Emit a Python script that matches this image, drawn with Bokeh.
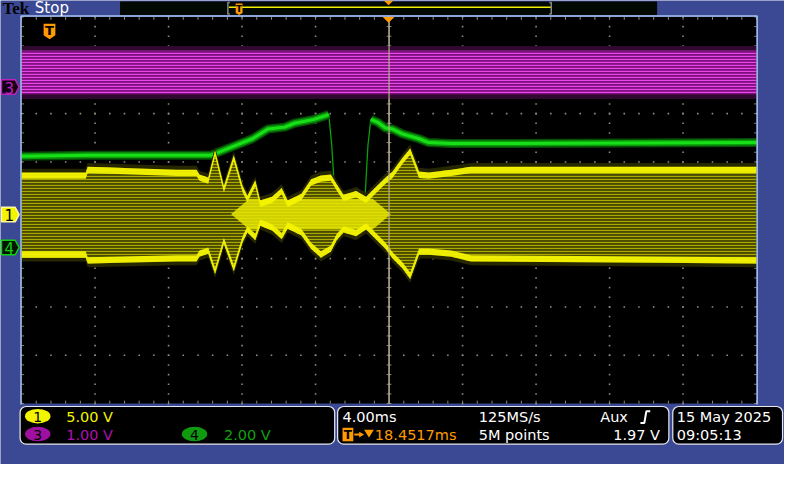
import numpy as np
from bokeh.plotting import figure
from bokeh.models import Range1d
from bokeh.core.properties import value
from bokeh.embed import file_html
from bokeh.resources import INLINE

# ---------------- data: time in ms from screen centre, amplitude in divisions ----------------
# Channel 1 (yellow) envelope
ch1_t = [-20.0, -16.51, -16.40, -11.55, -10.48, -10.32, -9.84, -9.47, -8.99, -8.45, -7.97,
         -7.71, -7.28, -7.01, -6.37, -5.84, -5.52, -4.77, -4.24, -3.71, -3.17, -2.85, -2.48,
         -1.79, -1.25, -0.72, -0.19, 0.19, 0.72, 1.15, 1.63, 2.16, 3.39, 4.45, 20.0]
ch1_upper = [0.78, 0.78, 0.90, 0.84, 0.84, 0.74, 0.68, 1.24, 0.50, 1.14, 0.50,
             0.30, 0.62, 0.20, 0.28, 0.46, 0.20, 0.34, 0.64, 0.72, 0.74, 0.54, 0.32,
             0.40, 0.28, 0.48, 0.68, 0.80, 1.08, 1.28, 0.80, 0.78, 0.84, 0.90, 0.90]
ch1_lower = [-0.98, -0.98, -1.10, -1.06, -1.06, -0.96, -0.90, -1.32, -0.70, -1.26, -0.66,
             -0.46, -0.62, -0.32, -0.42, -0.60, -0.38, -0.52, -0.80, -0.98, -0.86, -0.62, -0.46,
             -0.54, -0.40, -0.60, -0.80, -1.00, -1.20, -1.42, -0.92, -0.92, -0.96, -1.06, -1.10]
# dense bright core of channel 1 during the small-amplitude stretch
ch1_core_t = [-8.6, -7.6, -0.9, 0.1]
ch1_core_upper = [-0.08, 0.24, 0.24, -0.08]
ch1_core_lower = [-0.08, -0.40, -0.40, -0.08]

# Channel 3 (magenta) band
ch3_t = [-20.0, -10.0, 0.0, 10.0, 20.0]
ch3_upper = [3.30, 3.30, 3.30, 3.30, 3.30]
ch3_lower = [2.40, 2.40, 2.40, 2.40, 2.40]

# Channel 4 (green) trace
ch4_t = [-20.0, -16.45, -9.68, -9.15, -7.97, -7.44, -6.59, -5.68, -5.15, -4.08, -3.28,
         -3.12, -3.01, -2.91, -1.31, -1.15, -0.99, -0.61, -0.19, 0.19, 0.72, 1.63, 2.16, 3.39, 20.0]
ch4_v = [1.12, 1.14, 1.14, 1.22, 1.40, 1.48, 1.68, 1.72, 1.80, 1.88, 1.98,
         1.34, 0.68, 0.34, 0.24, 1.34, 1.88, 1.82, 1.70, 1.68, 1.58, 1.48, 1.40, 1.38, 1.40]

# Graticule: 10 x 4.00 ms divisions, 8 vertical divisions
div_ms = 4.0
n_xdiv, n_ydiv = 10, 8

# Readout texts
readout_ch = ["1", "3", "4"]
readout_scale = ["5.00 V", "1.00 V", "2.00 V"]
time_scale = "4.00ms"
sample_rate = "125MS/s"
trigger_src = "Aux"
trigger_pos = "18.4517ms"
record_len = "5M points"
trigger_level = "1.97 V"
date_txt = "15 May 2025"
time_txt = "09:05:13"

# ---------------- colours ----------------
BLUE = "#3b4994"
FRAME = "#a8c4ee"
GRID = "#8c8c78"
YEL = "#f4f400"
MAG = "#c020c0"
GRN = "#10d010"
ORANGE = "#ff9a00"
FONT = value("DejaVu Sans")

# ---------------- figure: canvas mapped to the 800x480 screen ----------------
W, H = 784, 464
XS, XE = -396.5 * div_ms / 75.0, (800 - 396.5) * div_ms / 75.0
YS, YE = (217 - 480) / 50.0, 217 / 50.0
p = figure(width=W, height=H, x_range=Range1d(XS, XE), y_range=Range1d(YS, YE),
           output_backend="svg", toolbar_location=None, min_border=0,
           x_axis_type=None, y_axis_type=None)
p.extra_x_ranges = {"px": Range1d(0, 800)}
p.extra_y_ranges = {"px": Range1d(480, 0)}
p.background_fill_color = BLUE
p.border_fill_color = BLUE
p.outline_line_color = None
p.xgrid.visible = False
p.ygrid.visible = False
PX = dict(x_range_name="px", y_range_name="px")

hx = n_xdiv / 2 * div_ms
hy = n_ydiv / 2
# graticule area
p.quad(left=[-hx], right=[hx], bottom=[-hy], top=[hy], fill_color="black", line_color=None)

# grid dots
sub_x = np.arange(-hx, hx + 1e-9, div_ms / 5)
sub_y = np.arange(-hy, hy + 1e-9, 0.2)
gx, gy = [], []
for yl in range(-3, 4):
    if yl == 0:
        continue
    gx += list(sub_x); gy += [yl] * len(sub_x)
for k in range(-4, 5):
    if k == 0:
        continue
    gx += [k * div_ms] * len(sub_y); gy += list(sub_y)
p.scatter(gx, gy, marker="square", size=1.6, color=GRID, line_color=None)

# edge ticks and centre line ticks
tk = 0.06
tkx = tk * 4 / 3 * 1.6
tx0, tx1, ty0, ty1 = [], [], [], []
for x in sub_x:
    tx0 += [x, x, x]; tx1 += [x, x, x]
    ty0 += [hy, -hy, -tk]; ty1 += [hy - tk, -hy + tk, tk]
for y in sub_y:
    tx0 += [-hx, hx, -tkx]; tx1 += [-hx + tkx, hx - tkx, tkx]
    ty0 += [y, y, y]; ty1 += [y, y, y]
p.segment(tx0, ty0, tx1, ty1, line_color=GRID, line_width=1)
# centre lines
p.segment([-hx, 0], [0, -hy], [hx, 0], [0, hy], line_color="#9c9480", line_width=1.2)

# channel 3 (magenta)
p.varea(x=ch3_t, y1=[v + 0.1 for v in ch3_upper], y2=[v - 0.1 for v in ch3_lower],
        fill_color="#300830")
p.varea(x=ch3_t, y1=ch3_upper, y2=ch3_lower, fill_color="#801080",
        hatch_pattern="horizontal_line", hatch_color="#e848e8", hatch_scale=3, hatch_weight=1.3)

# channel 4 (green) – thin full trace, thick slow parts
p.line(ch4_t, ch4_v, line_color="#0aa00a", line_width=1.3)
tt, vv = [], []
for i in range(len(ch4_t)):
    tt.append(ch4_t[i]); vv.append(ch4_v[i])
    if i < len(ch4_t) - 1:
        slope = abs(ch4_v[i + 1] - ch4_v[i]) / (ch4_t[i + 1] - ch4_t[i])
        if slope > 1.5:
            tt.append(np.nan); vv.append(np.nan)
p.line(tt, vv, line_color="#064d06", line_width=9, line_join="round")
p.line(tt, vv, line_color="#0a9a0a", line_width=6, line_join="round")
p.line(tt, vv, line_color="#18e018", line_width=3, line_join="round")

# channel 1 (yellow)
up = np.array(ch1_upper); lo = np.array(ch1_lower)
p.varea(x=ch1_t, y1=up + 0.08, y2=lo - 0.08, fill_color="#262600")
p.varea(x=ch1_t, y1=up, y2=lo, fill_color="#4a4a00",
        hatch_pattern="horizontal_line", hatch_color="#c8c800", hatch_alpha=0.75,
        hatch_scale=3, hatch_weight=1.2)
# bright core, kept inside the envelope
tc = np.linspace(ch1_core_t[0], ch1_core_t[-1], 300)
cu = np.minimum(np.interp(tc, ch1_core_t, ch1_core_upper), np.interp(tc, ch1_t, up))
cl = np.maximum(np.interp(tc, ch1_core_t, ch1_core_lower), np.interp(tc, ch1_t, lo))
p.varea(x=tc, y1=cu, y2=cl, fill_color="#e8e800", fill_alpha=0.85)
p.varea(x=ch1_t, y1=up, y2=up - 0.13, fill_color=YEL, fill_alpha=0.95)
p.varea(x=ch1_t, y1=lo + 0.13, y2=lo, fill_color=YEL, fill_alpha=0.95)

# vertical centre (trigger) line over traces
p.segment([0], [-hy], [0], [hy], line_color="#b8ad90", line_width=1.2)

# graticule frame
p.line([-hx - 0.03, -hx - 0.03, hx + 0.03, hx + 0.03], [-hy - 0.02, hy + 0.02, hy + 0.02, -hy - 0.02],
       line_color=FRAME, line_width=1.5)

# ---------------- decorations in screen pixels ----------------
# top bar
p.text(x=[2], y=[8], text=["Tek"], text_font=value("Liberation Serif"), text_font_style="bold",
       text_font_size=value("17px"), text_color="black", text_baseline="middle", **PX)
p.text(x=[35], y=[8], text=["Stop"], text_font=FONT, text_font_size=value("15px"),
       text_color="white", text_baseline="middle", **PX)
p.quad(left=[122], right=[670], top=[1], bottom=[15], fill_color="#020802", line_color=None, **PX)
p.segment([233], [7], [562], [7], line_color="#f0f000", line_width=1.5, **PX)
p.line([234, 232, 232, 234], [2, 2, 14, 14], line_color="#8a8a8a", line_width=1.5, **PX)
p.line([560, 562, 562, 560], [2, 2, 14, 14], line_color="#8a8a8a", line_width=1.5, **PX)
p.patches([[240, 247, 247, 243.5, 240], [391, 401, 396], [390, 402, 396]],
          [[3, 3, 13, 15, 13], [0, 0, 5], [17, 17, 23]],
          fill_color=ORANGE, line_color=None, **PX)
p.text(x=[243.5], y=[8.5], text=["T"], text_font=FONT, text_font_style="bold",
       text_font_size=value("9px"), text_color="black", text_align="center",
       text_baseline="middle", **PX)
# trigger T in graticule
p.patches([[44, 56, 56, 50, 44]], [[24, 24, 36, 40, 36]], fill_color=ORANGE, line_color=None, **PX)
p.text(x=[50], y=[31.5], text=["T"], text_font=FONT, text_font_style="bold",
       text_font_size=value("13px"), text_color="black", text_align="center",
       text_baseline="middle", **PX)

# channel markers on the left
mx, my = [], []
for yc in (89.5, 221.5, 255.5):
    mx.append([1, 15, 19, 15, 1]); my.append([yc - 7.5, yc - 7.5, yc, yc + 7.5, yc + 7.5])
p.patches(mx, my, fill_color=["#140014", YEL, "#001400"], line_color=[MAG, "#fff8a0", GRN],
          line_width=1.5, **PX)
p.text(x=[9, 9, 9], y=[90, 222, 256], text=["3", "1", "4"], text_font=FONT,
       text_font_size=value("15px"), text_color=[MAG, "black", GRN], text_align="center",
       text_baseline="middle", **PX)

# bottom readout boxes
p.quad(left=[20, 344, 686], right=[341, 682, 798], top=[420, 420, 420], bottom=[459, 459, 459],
       fill_color="black", line_color="#e8e8f0", line_width=1.2, border_radius=6, **PX)
p.ellipse(x=[38, 38, 198], y=[430, 448.5, 448.5], width=26, height=15,
          fill_color=[YEL, "#a010a0", "#109a10"], line_color=None, **PX)
p.text(x=[38, 38, 198], y=[430.5, 449, 449], text=readout_ch, text_font=FONT,
       text_font_size=value("14px"), text_color="black", text_align="center",
       text_baseline="middle", **PX)
p.text(x=[67, 67, 228], y=[430.5, 449, 449], text=readout_scale, text_font=FONT,
       text_font_size=value("14.5px"), text_color=[YEL, "#b010b0", "#10a010"],
       text_baseline="middle", **PX)
p.text(x=[349, 488, 612, 488, 690, 690], y=[430.5, 430.5, 430.5, 449, 430.5, 449],
       text=[time_scale, sample_rate, trigger_src, record_len, date_txt, time_txt],
       text_font=FONT, text_font_size=value("14.5px"), text_color="white",
       text_baseline="middle", **PX)
p.text(x=[673], y=[449], text=[trigger_level], text_font=FONT, text_font_size=value("14.5px"),
       text_color="white", text_align="right", text_baseline="middle", **PX)
# trigger slope symbol
p.line([653, 657, 659, 663], [437, 437, 425, 425], line_color="white", line_width=2, **PX)
# trigger position
p.quad(left=[349], right=[360], top=[442], bottom=[456], fill_color=ORANGE, line_color=None, **PX)
p.text(x=[354.5], y=[449.5], text=["T"], text_font=FONT, text_font_style="bold",
       text_font_size=value("12px"), text_color="black", text_align="center",
       text_baseline="middle", **PX)
p.segment([361], [449], [369], [449], line_color=ORANGE, line_width=2, **PX)
p.patches([[366, 366, 371], [371, 381, 376]], [[446, 452, 449], [444, 444, 452]],
          fill_color=ORANGE, line_color=None, **PX)
p.text(x=[382], y=[449], text=[trigger_pos], text_font=FONT, text_font_size=value("14.5px"),
       text_color=ORANGE, text_baseline="middle", **PX)

open("out.html", "w").write(file_html(p, INLINE))
